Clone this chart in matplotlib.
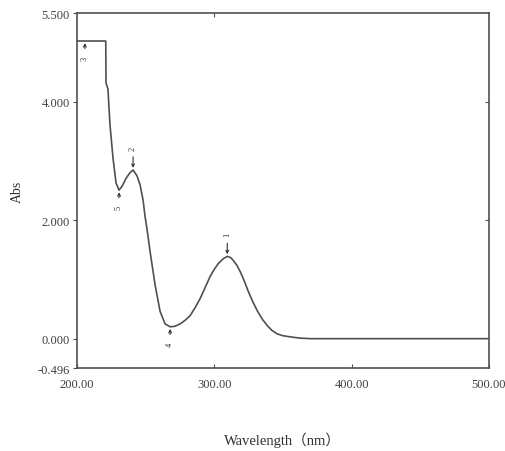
import matplotlib
matplotlib.use('Agg')
import matplotlib.pyplot as plt

# spectrum (nm, Abs)
wavelength = [200.0, 221.0, 221.2, 222.6, 224.1, 226.3, 228.5, 230.7, 233.0,
              235.8, 238.5, 240.9, 243.8, 246.0, 248.2, 249.6, 251.0, 253.3,
              257.0, 260.6, 264.2, 267.9, 271.5, 275.2, 278.8, 282.5, 286.0,
              289.8, 293.5, 297.0, 300.0, 303.0, 306.5, 309.5, 312.0, 314.0,
              316.5, 319.0, 322.0, 324.8, 328.0, 331.4, 335.0, 338.7, 342.0,
              346.0, 350.0, 355.5, 362.0, 370.0, 500.0]
absorbance = [5.03, 5.03, 4.32, 4.22, 3.61, 3.05, 2.63, 2.51, 2.58,
              2.71, 2.80, 2.85, 2.75, 2.60, 2.34, 2.07, 1.86, 1.47,
              0.90, 0.46, 0.25, 0.20, 0.21, 0.25, 0.31, 0.39, 0.52,
              0.68, 0.87, 1.05, 1.17, 1.27, 1.35, 1.39, 1.37, 1.32,
              1.24, 1.13, 0.97, 0.80, 0.63, 0.47, 0.33, 0.22, 0.14,
              0.08, 0.05, 0.03, 0.01, 0.00, 0.00]

# peak / valley markers
mark_labels = ['1', '2', '3', '4', '5']
mark_wl = [309.5, 240.9, 205.8, 267.9, 230.7]
mark_abs = [1.39, 2.85, 5.03, 0.20, 2.51]
mark_up = [True, True, False, False, False]

xticks = [200, 300, 400, 500]
xtick_labels = ['200.00', '300.00', '400.00', '500.00']
yticks = [-0.496, 0.0, 2.0, 4.0, 5.5]
ytick_labels = ['-0.496', '0.000', '2.000', '4.000', '5.500']

plt.rcParams['font.family'] = ['Liberation Serif', 'Noto Sans CJK SC', 'DejaVu Sans']

fig = plt.figure(figsize=(5.06, 4.52), dpi=100)
ax = fig.add_axes([0.152, 0.1836, 0.814, 0.785])

line_col = '#505050'
ax.plot(wavelength, absorbance, color=line_col, lw=1.2)

ax.set_xlim(200, 500)
ax.set_ylim(-0.496, 5.5)
ax.set_xticks(xticks)
ax.set_xticklabels(xtick_labels, fontsize=9, color='#404040')
ax.set_yticks(yticks)
ax.set_yticklabels(ytick_labels, fontsize=9, color='#404040')
ax.tick_params(axis='y', direction='out', length=3, color=line_col, pad=2)
ax.tick_params(axis='x', direction='in', length=3, color=line_col, pad=7)
for s in ax.spines.values():
    s.set_color(line_col)
    s.set_linewidth(1.2)

sec = ax.secondary_yaxis('right')
sec.set_yticks([2.0, 4.0])
sec.tick_params(direction='in', length=3, color=line_col, labelright=False)
sec.spines['right'].set_visible(False)
top = ax.secondary_xaxis('top')
top.set_xticks([300])
top.tick_params(direction='in', length=3, color=line_col, labeltop=False)
top.spines['top'].set_visible(False)

for lab, x, y, up in zip(mark_labels, mark_wl, mark_abs, mark_up):
    dy = 16 if up else -12
    ax.annotate(lab, xy=(x, y), xytext=(0, dy), textcoords='offset points',
                ha='center', va='center', rotation=90, fontsize=6,
                color='#303030',
                arrowprops=dict(arrowstyle='->', lw=0.8, color='#303030',
                                shrinkA=3, shrinkB=1.5, mutation_scale=5))

ax.set_ylabel('Abs', fontsize=10, color='#303030', labelpad=10)
ax.set_xlabel('Wavelength（nm）', fontsize=10.5, color='#303030', labelpad=30)

fig.savefig('out.png', dpi=100)
